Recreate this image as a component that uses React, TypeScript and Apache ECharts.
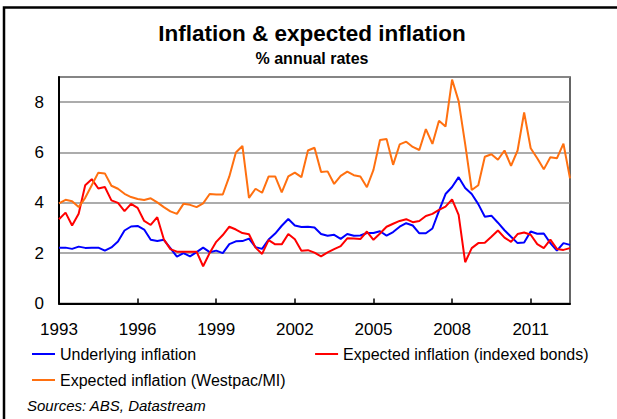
import React, { useEffect, useRef } from "react";
import * as echarts from "echarts";

// Quarterly observations, first quarter = 1993.0
const START_YEAR = 1993;
const END_YEAR = 2012.5;
const STEP = 0.25;

const underlying = [
  2.22, 2.22, 2.17, 2.26, 2.21, 2.22, 2.22, 2.10, 2.23, 2.46,
  2.90, 3.06, 3.08, 2.94, 2.53, 2.48, 2.53, 2.20, 1.86, 2.00,
  1.87, 2.04, 2.22, 2.04, 2.10, 2.00, 2.36, 2.47, 2.48, 2.58,
  2.24, 2.17, 2.54, 2.78, 3.09, 3.36, 3.10, 3.04, 3.05, 3.02,
  2.76, 2.69, 2.73, 2.57, 2.76, 2.69, 2.70, 2.80, 2.80, 2.87,
  2.70, 2.84, 3.05, 3.19, 3.10, 2.79, 2.79, 2.98, 3.68, 4.35,
  4.63, 5.02, 4.59, 4.35, 3.95, 3.45, 3.49, 3.21, 2.91, 2.65,
  2.40, 2.42, 2.86, 2.77, 2.78, 2.40, 2.10, 2.40, 2.33,
];

const indexedBonds = [
  3.35, 3.61, 3.10, 3.57, 4.70, 4.94, 4.57, 4.63, 4.10, 4.00,
  3.67, 3.96, 3.80, 3.28, 3.12, 3.43, 2.55, 2.16, 2.06, 2.06,
  2.06, 2.06, 1.48, 2.01, 2.45, 2.72, 3.05, 2.94, 2.80, 2.75,
  2.22, 1.97, 2.52, 2.35, 2.35, 2.76, 2.55, 2.10, 2.12, 2.02,
  1.87, 2.03, 2.16, 2.28, 2.59, 2.58, 2.56, 2.86, 2.53, 2.78,
  3.05, 3.17, 3.28, 3.35, 3.23, 3.28, 3.48, 3.56, 3.72, 3.85,
  4.14, 3.52, 1.64, 2.20, 2.40, 2.41, 2.65, 2.90, 2.62, 2.45,
  2.76, 2.82, 2.73, 2.36, 2.20, 2.54, 2.17, 2.13, 2.20,
];

const westpac = [
  3.98, 4.12, 4.06, 3.83, 4.20, 4.70, 5.20, 5.17, 4.68, 4.56,
  4.36, 4.23, 4.15, 4.11, 4.18, 4.02, 3.83, 3.66, 3.56, 3.96,
  3.92, 3.83, 3.98, 4.35, 4.33, 4.33, 5.05, 6.00, 6.26, 4.20,
  4.56, 4.40, 5.05, 5.05, 4.42, 5.05, 5.20, 5.02, 6.08, 6.19,
  5.23, 5.25, 4.75, 5.07, 5.24, 5.10, 5.05, 4.62, 5.31, 6.50,
  6.54, 5.51, 6.32, 6.43, 6.22, 6.10, 6.93, 6.34, 7.26, 7.03,
  8.90, 8.04, 6.33, 4.51, 4.70, 5.83, 5.93, 5.71, 6.08, 5.47,
  6.08, 7.59, 6.17, 5.77, 5.33, 5.81, 5.77, 6.35, 4.97,
];

const seriesNames = [
  "Underlying inflation",
  "Expected inflation (indexed bonds)",
  "Expected inflation (Westpac/MI)",
];
const seriesColors = ["#0000FF", "#FF0000", "#FF7010"];
const xTickInterval = 3;
const yTickInterval = 2;
const yMax = 9;

const FONT = "'Liberation Sans', Arial, sans-serif";

export default function App() {
  const ref = useRef<HTMLDivElement>(null);

  useEffect(() => {
    document.body.style.margin = "0";
    if (!ref.current) return;
    const chart = echarts.init(ref.current, null, { renderer: "svg" });
    const toPairs = (arr: number[]) =>
      arr.map((v, i) => [START_YEAR + i * STEP, v]);
    const all = [underlying, indexedBonds, westpac];

    const legendCommon = {
      orient: "horizontal",
      padding: 0,
      itemWidth: 23,
      itemHeight: 2,
      icon: "rect",
      selectedMode: false,
      textStyle: { fontSize: 16, color: "#000", fontFamily: FONT },
    };

    chart.setOption({
      animation: false,
      backgroundColor: "#fff",
      textStyle: { fontFamily: FONT },
      title: [
        {
          text: "Inflation & expected inflation",
          left: 312,
          textAlign: "center",
          top: 22,
          padding: 0,
          textStyle: { fontSize: 22.5, fontWeight: "bold", color: "#000", fontFamily: FONT },
        },
        {
          text: "% annual rates",
          left: 312,
          textAlign: "center",
          top: 50,
          padding: 0,
          textStyle: { fontSize: 16, fontWeight: "bold", color: "#000", fontFamily: FONT },
        },
      ],
      legend: [
        { ...legendCommon, data: [seriesNames[0], seriesNames[1]], left: 32, top: 346, itemGap: 119 },
        { ...legendCommon, data: [seriesNames[2]], left: 32, top: 372 },
      ],
      grid: {
        left: 59,
        top: 77,
        width: 511,
        height: 226.5,
        show: true,
        borderColor: "#333",
        borderWidth: 1.5,
        backgroundColor: "transparent",
      },
      xAxis: {
        type: "value",
        min: START_YEAR,
        max: END_YEAR,
        interval: xTickInterval,
        axisLine: { show: true, lineStyle: { color: "#000", width: 2 } },
        axisTick: { show: true, inside: true, length: 5, lineStyle: { color: "#000", width: 1.5 } },
        axisLabel: {
          fontSize: 17,
          color: "#000",
          margin: 17,
          showMaxLabel: false,
          formatter: (v: number) => (Number.isInteger(v) ? String(v) : ""),
        },
        splitLine: { show: false },
      },
      yAxis: {
        type: "value",
        min: 0,
        max: yMax,
        interval: yTickInterval,
        axisLine: { show: true, lineStyle: { color: "#000", width: 2 } },
        axisTick: { show: false },
        axisLabel: {
          fontSize: 17,
          color: "#000",
          margin: 15,
          showMaxLabel: false,
          formatter: (v: number) => (v % yTickInterval === 0 ? String(v) : ""),
        },
        splitLine: { show: true, lineStyle: { color: "#909090", width: 1.5 } },
      },
      series: all.map((arr, k) => ({
        name: seriesNames[k],
        type: "line",
        data: toPairs(arr),
        showSymbol: false,
        symbol: "none",
        lineStyle: { color: seriesColors[k], width: 2 },
        itemStyle: { color: seriesColors[k] },
        z: 3 + k,
      })),
      graphic: [
        {
          type: "rect",
          silent: true,
          shape: { x: 4, y: 7.5, width: 700, height: 600 },
          style: { fill: "none", stroke: "#000", lineWidth: 2.5 },
        },
        {
          type: "text",
          left: 27,
          top: 398,
          style: {
            text: "Sources: ABS, Datastream",
            font: `italic 15px ${FONT}`,
            fill: "#000",
          },
        },
      ],
    });

    return () => chart.dispose();
  }, []);

  return <div ref={ref} style={{ width: 617, height: 419 }} />;
}
